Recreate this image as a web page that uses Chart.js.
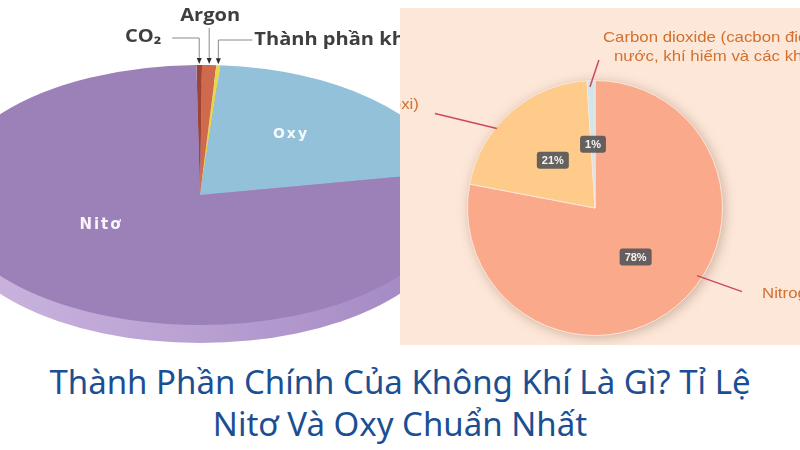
<!DOCTYPE html>
<html><head><meta charset="utf-8">
<script src="https://cdn.jsdelivr.net/npm/chart.js@4.4.1/dist/chart.umd.min.js"></script>
<style>
html,body{margin:0;padding:0;background:#fff;width:800px;height:450px;overflow:hidden;}
#left{position:absolute;left:0;top:0;width:400px;height:350px;overflow:hidden;}
#leftCanvas{position:absolute;left:-60px;top:-70px;}
#right{position:absolute;left:400px;top:8px;width:400px;height:337px;overflow:hidden;background:#fde7d8;}
#rightCanvas{position:absolute;left:-150px;top:-8px;}
#title{position:absolute;left:0;top:361px;width:800px;text-align:center;font-family:"Noto Sans";font-size:33px;line-height:42px;color:#1b4f93;white-space:nowrap;}
</style></head><body>
<div id="left"><canvas id="leftCanvas" width="520" height="534"></canvas></div>
<div id="right"><canvas id="rightCanvas" width="600" height="345"></canvas></div>
<div id="title">Thành Phần Chính Của Không Khí Là Gì? Tỉ Lệ<br>Nitơ Và Oxy Chuẩn Nhất</div>
<script>
// ---- data: left (3D-style) pie ----
const leftLabels = ['CO₂', 'Argon', 'Thành phần khác', 'Oxy', 'Nitơ'];
const leftValues = [0.35, 0.9, 0.25, 21, 78];
const leftColors = ['#9d4436', '#cf6a4d', '#e8d64a', '#93c1da', '#9c80b8'];

// ---- data: right pie ----
const rightLabels = ['Nitrogen (nitơ)', 'Oxygen (oxi)', 'Carbon dioxide (cacbon đioxit), hơi nước, khí hiếm và các khí khác'];
const rightLabelLines = [['Nitrogen (nitơ)'], ['Oxygen (oxi)'], ['Carbon dioxide (cacbon đioxit), hơi', 'nước, khí hiếm và các khí khác']];
const rightValues = [78, 21, 1];
const rightPct = ['78%', '21%', '1%'];
const rightColors = ['#fba98b', '#fecb8b', '#cfe6ee'];

const K = 0.51, THICK = 18;

function stretchedText(ctx, text, x, y, align, sx) {
  ctx.save();
  ctx.translate(x, y); ctx.scale(sx, 1);
  ctx.textAlign = align; ctx.textBaseline = 'middle';
  ctx.fillText(text, 0, 0);
  ctx.restore();
}

const leftPlugin = {
  id: 'leftDeco',
  beforeDatasetsDraw(chart) {
    const arc = chart.getDatasetMeta(0).data[0];
    const cx = arc.x, cy = arc.y, R = arc.outerRadius;
    const ctx = chart.ctx;
    ctx.save();
    ctx.translate(cx, cy); ctx.scale(1, K); ctx.translate(-cx, -cy);
    const g = ctx.createLinearGradient(cx - R, 0, cx + R, 0);
    g.addColorStop(0, '#ccb7e0'); g.addColorStop(0.5, '#b9a0d2'); g.addColorStop(1, '#a086c1');
    ctx.fillStyle = g;
    ctx.beginPath(); ctx.arc(cx, cy + THICK / K, R, 0, Math.PI * 2); ctx.fill();
  },
  afterDatasetsDraw(chart) {
    const ctx = chart.ctx;
    ctx.restore();
    const arcs = chart.getDatasetMeta(0).data;
    const cx = arcs[0].x, cy = arcs[0].y, R = arcs[0].outerRadius;
    // in-slice labels
    ctx.save();
    ctx.fillStyle = 'rgba(255,255,255,0.92)';
    ctx.letterSpacing = '2px';
    ctx.font = 'bold 15px "DejaVu Sans"';
    stretchedText(ctx, leftLabels[4], cx - 99, cy + 30, 'center', 1);
    ctx.font = 'bold 14px "DejaVu Sans"';
    stretchedText(ctx, leftLabels[3], cx + 91, cy - 61, 'center', 1);
    ctx.restore();
    // leaders for the tiny slices
    const leaders = [
      {i: 0, ly: -157, hx: -27, tx: -38, ty: -158, align: 'right'},
      {i: 1, ly: -167, hx: 0, tx: 1, ty: -179, align: 'center'},
      {i: 2, ly: -155, hx: 34, tx: 36, ty: -155, align: 'left'}
    ];
    ctx.save();
    leaders.forEach(L => {
      const a = arcs[L.i];
      const mid = (a.startAngle + a.endAngle) / 2;
      const px = cx + R * Math.cos(mid);
      const py = cy + R * Math.sin(mid) * K;
      ctx.strokeStyle = '#8a8a8a'; ctx.lineWidth = 1;
      ctx.beginPath();
      ctx.moveTo(px, py - 5); ctx.lineTo(px, cy + L.ly);
      if (L.hx) ctx.lineTo(px + L.hx, cy + L.ly);
      ctx.stroke();
      ctx.fillStyle = '#2e2e2e';
      ctx.beginPath(); ctx.moveTo(px, py - 1); ctx.lineTo(px - 2.5, py - 7); ctx.lineTo(px + 2.5, py - 7); ctx.closePath(); ctx.fill();
      ctx.fillStyle = '#3e3e3e';
      ctx.font = 'bold 17px "Open Sans"';
      stretchedText(ctx, leftLabels[L.i], px + L.tx, cy + L.ty, L.align, 1.18);
    });
    ctx.restore();
  }
};

new Chart(document.getElementById('leftCanvas'), {
  type: 'pie',
  data: {labels: leftLabels, datasets: [{data: leftValues, backgroundColor: leftColors, borderWidth: 0}]},
  options: {
    responsive: false, animation: false, devicePixelRatio: 1, rotation: -0.8, events: [],
    layout: {padding: {left: 5, right: 5, top: 10, bottom: 14}},
    plugins: {legend: {display: false}, tooltip: {enabled: false}}
  },
  plugins: [leftPlugin]
});

const rightPlugin = {
  id: 'rightDeco',
  beforeDatasetsDraw(chart) {
    const a = chart.getDatasetMeta(0).data[0];
    const ctx = chart.ctx;
    ctx.save();
    ctx.shadowColor = 'rgba(110,70,50,0.35)'; ctx.shadowBlur = 12; ctx.shadowOffsetX = 2; ctx.shadowOffsetY = 2;
    ctx.fillStyle = rightColors[0];
    ctx.beginPath(); ctx.arc(a.x, a.y, a.outerRadius, 0, Math.PI * 2); ctx.fill();
    ctx.restore();
  },
  afterDatasetsDraw(chart) {
    const ctx = chart.ctx;
    const arcs = chart.getDatasetMeta(0).data;
    const cx = arcs[0].x, cy = arcs[0].y, R = arcs[0].outerRadius;
    ctx.save();
    // percent boxes
    ctx.font = 'bold 11px "Liberation Sans"';
    ctx.textAlign = 'center'; ctx.textBaseline = 'middle';
    arcs.forEach((a, i) => {
      const mid = (a.startAngle + a.endAngle) / 2;
      const x = cx + 0.5 * R * Math.cos(mid), y = cy + 0.5 * R * Math.sin(mid);
      const w = ctx.measureText(rightPct[i]).width + 10, h = 17;
      ctx.fillStyle = 'rgba(88,88,88,0.92)';
      ctx.beginPath(); ctx.roundRect(x - w / 2, y - h / 2, w, h, 3); ctx.fill();
      ctx.fillStyle = '#f4f4f4';
      ctx.fillText(rightPct[i], x, y + 0.5);
    });
    // leaders
    const leaders = [
      {t: 0.44, r: 0.96, dx: 45, dy: 16, lines: [[20, 2]], align: 'left'},
      {t: 0.373, r: 0.99, dx: -62, dy: -15, lines: [[-16, -9]], align: 'right'},
      {t: 0.33, r: 0.95, dx: 9, dy: -27, lines: [[4, -22], [15, -3]], align: 'left'}
    ];
    leaders.forEach((L, i) => {
      const a = arcs[i];
      const ang = a.startAngle + (a.endAngle - a.startAngle) * L.t;
      const sx = cx + L.r * R * Math.cos(ang), sy = cy + L.r * R * Math.sin(ang);
      const ex = sx + L.dx, ey = sy + L.dy;
      ctx.strokeStyle = '#c94a5c'; ctx.lineWidth = 1.5;
      ctx.beginPath(); ctx.moveTo(sx, sy); ctx.lineTo(ex, ey); ctx.stroke();
      ctx.fillStyle = '#d2702f';
      ctx.font = '15px "Liberation Sans"';
      L.lines.forEach((off, j) => stretchedText(ctx, rightLabelLines[i][j], ex + off[0], ey + off[1], L.align, 1.12));
    });
    ctx.restore();
  }
};

new Chart(document.getElementById('rightCanvas'), {
  type: 'pie',
  data: {labels: rightLabels, datasets: [{data: rightValues, backgroundColor: rightColors, borderWidth: 1, borderColor: '#fbe6da'}]},
  options: {
    responsive: false, animation: false, devicePixelRatio: 1, events: [],
    layout: {padding: {left: 217, right: 127, top: 80, bottom: 9}},
    plugins: {legend: {display: false}, tooltip: {enabled: false}}
  },
  plugins: [rightPlugin]
});
</script>
</body></html>
